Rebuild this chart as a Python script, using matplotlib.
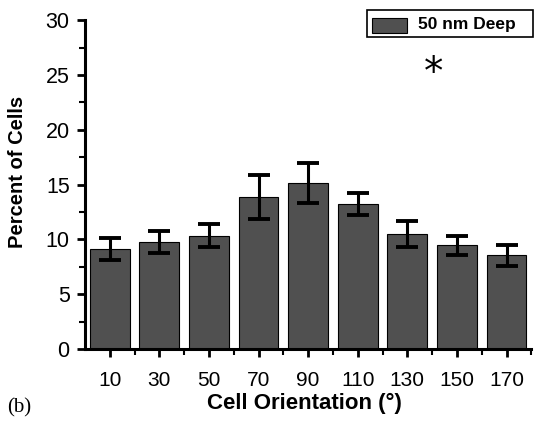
import matplotlib
matplotlib.use("Agg")
import matplotlib.pyplot as plt
from matplotlib.patches import Rectangle
from matplotlib.ticker import MultipleLocator

categories = ["10", "30", "50", "70", "90", "110", "130", "150", "170"]
values = [9.1, 9.8, 10.35, 13.9, 15.15, 13.2, 10.5, 9.45, 8.55]
errors = [1.0, 1.0, 1.05, 2.0, 1.8, 1.0, 1.2, 0.85, 0.95]
legend_label = "50 nm Deep"
y_ticks = [0, 5, 10, 15, 20, 25, 30]

plt.rcParams['font.family'] = ['Liberation Sans', 'DejaVu Sans']

fig = plt.figure(figsize=(5.34, 4.21), dpi=100)
ax = fig.add_axes([0.159, 0.171, 0.836, 0.781])

x = list(range(len(categories)))
ax.bar(x, values, width=0.8, color="#505050", edgecolor="black", linewidth=0.8, zorder=2)
ax.errorbar(x, values, yerr=errors, fmt="none", ecolor="black", elinewidth=2.2,
            capsize=8, capthick=2.8, zorder=3)

ax.set_xlim(-0.5, 8.47)
ax.set_ylim(0, 30)
ax.set_yticks(y_ticks)
ax.yaxis.set_minor_locator(MultipleLocator(2.5))
ax.set_xticks(x)
ax.set_xticklabels(categories)
ax.set_xticks([i + 0.5 for i in x], minor=True)

for s in ["top", "right"]:
    ax.spines[s].set_visible(False)
for s in ["left", "bottom"]:
    ax.spines[s].set_linewidth(2.2)

ax.tick_params(axis="both", which="major", direction="out", length=6, width=2)
ax.tick_params(axis="both", which="minor", direction="out", length=4, width=1.5)
ax.tick_params(axis="y", which="major", labelsize=15.5, pad=5)
ax.tick_params(axis="x", which="major", labelsize=15, pad=10)

ax.set_ylabel("Percent of Cells", fontsize=14.5, fontweight="bold", va="center")
ax.yaxis.set_label_coords(-0.150, 0.538)
ax.set_xlabel("Cell Orientation (°)", fontsize=16, fontweight="bold", va="center")
ax.xaxis.set_label_coords(0.492, -0.167)

# legend box
fig.patches.append(Rectangle((367/534, 1-37/421), 166/534, 27/421, transform=fig.transFigure,
                             facecolor="white", edgecolor="black", linewidth=1.2))
fig.patches.append(Rectangle((372/534, 1-33/421), 35/534, 15/421, transform=fig.transFigure,
                             facecolor="#505050", edgecolor="black", linewidth=0.8))
fig.text(418/534, 1-24/421, legend_label, fontsize=12.5, fontweight="bold", va="center", ha="left")

ax.text(6.53, 25.2, "*", fontsize=28, ha="center", va="center", family="DejaVu Sans")

fig.text(7/534, 1-408/421, "(b)", fontsize=15, family="Liberation Serif", va="center", ha="left")

fig.savefig("out.png", dpi=100)
